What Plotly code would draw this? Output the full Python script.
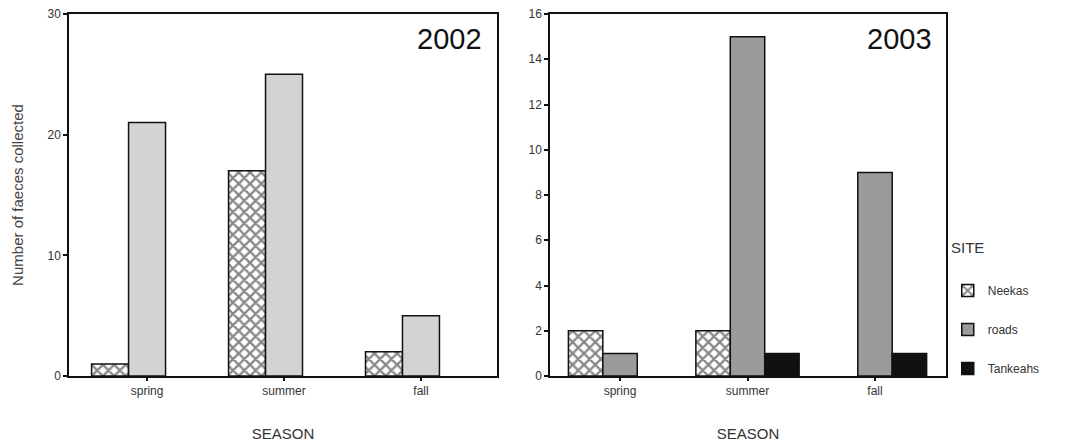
import plotly.graph_objects as go
from plotly.subplots import make_subplots

seasons = ["spring", "summer", "fall"]

# 2002 counts per site
neekas_2002 = [1, 17, 2]
roads_2002 = [21, 25, 5]
tankeahs_2002 = [None, None, None]

# 2003 counts per site
neekas_2003 = [2, 2, None]
roads_2003 = [1, 15, 9]
tankeahs_2003 = [None, 1, 1]

FONT = "Liberation Sans, Arial, sans-serif"
LINE = dict(color="#111111", width=1.5)
hatch = dict(shape="x", size=8, solidity=0.5, fgcolor="#111111", bgcolor="white")

fig = make_subplots(rows=1, cols=2, horizontal_spacing=0.0605,
                    column_widths=[0.488, 0.4515])

# left panel
fig.add_trace(go.Bar(x=seasons, y=neekas_2002, name="Neekas", legendgroup="n",
                     showlegend=False, marker=dict(color="white", pattern=hatch, line=LINE)),
              row=1, col=1)
fig.add_trace(go.Bar(x=seasons, y=roads_2002, name="roads", legendgroup="r",
                     showlegend=False, marker=dict(color="#d3d3d3", line=LINE)),
              row=1, col=1)
fig.add_trace(go.Bar(x=seasons, y=tankeahs_2002, name="Tankeahs", legendgroup="t",
                     showlegend=False, marker=dict(color="#111111", line=LINE)),
              row=1, col=1)

# right panel
fig.add_trace(go.Bar(x=seasons, y=neekas_2003, name="Neekas", legendgroup="n",
                     marker=dict(color="white", pattern=hatch, line=LINE)),
              row=1, col=2)
fig.add_trace(go.Bar(x=seasons, y=roads_2003, name="roads", legendgroup="r",
                     marker=dict(color="#9b9b9b", line=LINE)),
              row=1, col=2)
fig.add_trace(go.Bar(x=seasons, y=tankeahs_2003, name="Tankeahs", legendgroup="t",
                     marker=dict(color="#111111", line=LINE)),
              row=1, col=2)

axis_common = dict(showline=True, mirror=True, linecolor="#111111", linewidth=1.5,
                   showgrid=False, zeroline=False, ticks="outside", tickcolor="#111111",
                   tickwidth=2, automargin=False,
                   tickfont=dict(family=FONT, size=12, color="#333333"))

fig.update_xaxes(**axis_common, ticklen=3,
                 title=dict(text="SEASON", font=dict(family=FONT, size=15, color="#333333"),
                            standoff=31))
fig.update_xaxes(range=[-0.57, 2.555], row=1, col=1)
fig.update_xaxes(range=[-0.549, 2.557], row=1, col=2)

fig.update_yaxes(**axis_common, ticklen=4)
fig.update_yaxes(range=[0, 30], tickvals=[0, 10, 20, 30], row=1, col=1,
                 title=dict(text="Number of faeces collected",
                            font=dict(family=FONT, size=15, color="#444444"), standoff=20))
fig.update_yaxes(range=[0, 16], dtick=2, row=1, col=2)

fig.add_annotation(text="2002", xref="x domain", yref="y domain", x=0.97, y=0.93,
                   xanchor="right", yanchor="middle", showarrow=False,
                   font=dict(family=FONT, size=29, color="#111111"))
fig.add_annotation(text="2003", xref="x2 domain", yref="y2 domain", x=0.97, y=0.93,
                   xanchor="right", yanchor="middle", showarrow=False,
                   font=dict(family=FONT, size=29, color="#111111"))

# legend heading
fig.add_annotation(text="SITE", xref="paper", yref="paper", x=1.003, y=0.354,
                   xanchor="left", yanchor="middle", showarrow=False,
                   font=dict(family=FONT, size=15, color="#333333"))

fig.update_layout(
    width=1084, height=448,
    margin=dict(l=69, r=138, t=14, b=72, autoexpand=False),
    paper_bgcolor="white", plot_bgcolor="white",
    barmode="group", bargap=0.19, bargroupgap=0,
    legend=dict(x=1.002, xanchor="left", y=0.276, yanchor="top",
                bgcolor="rgba(0,0,0,0)",
                font=dict(family=FONT, size=12, color="#333333"),
                tracegroupgap=20, itemwidth=30),
)

fig.write_html("out.html")
